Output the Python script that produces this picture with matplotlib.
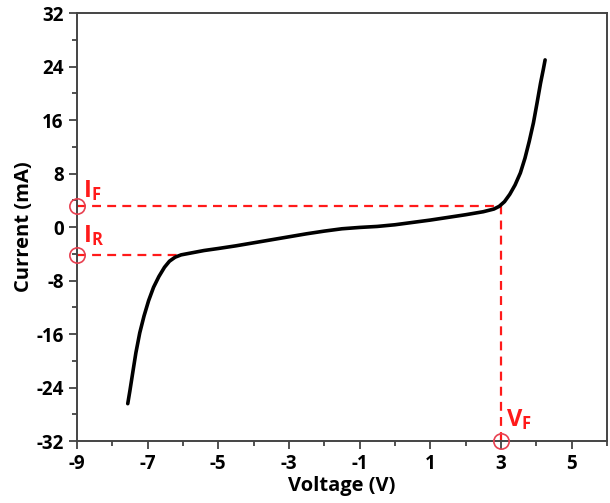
import matplotlib
matplotlib.use('Agg')
import matplotlib.pyplot as plt
from matplotlib.ticker import MultipleLocator

# I-V curve
voltage = [-7.56, -7.5, -7.42, -7.33, -7.22, -7.1, -6.97, -6.83, -6.68, -6.52, -6.38,
           -6.22, -6.05, -5.8, -5.4, -5.0, -4.5, -4.0, -3.5, -3.0, -2.5, -2.0, -1.5,
           -1.0, -0.5, 0.0, 0.5, 1.0, 1.5, 2.0, 2.5, 2.8, 2.95, 3.1, 3.25, 3.4, 3.55,
           3.68, 3.8, 3.92, 4.02, 4.12, 4.2, 4.25]
current = [-26.4, -24.5, -21.8, -18.8, -15.8, -13.3, -11.0, -9.0, -7.4, -6.0, -5.1,
           -4.5, -4.15, -3.9, -3.5, -3.2, -2.8, -2.35, -1.9, -1.45, -1.0, -0.6, -0.25,
           -0.05, 0.1, 0.35, 0.7, 1.05, 1.45, 1.85, 2.3, 2.7, 3.1, 3.8, 4.9, 6.3, 8.1,
           10.3, 12.8, 15.6, 18.5, 21.5, 23.6, 25.0]

i_f = 3.2
i_r = -4.1
v_f = 3.0
v_knee = -6.15

x_ticks = [-9, -7, -5, -3, -1, 1, 3, 5]
y_ticks = [-32, -24, -16, -8, 0, 8, 16, 24, 32]

plt.rcParams['font.family'] = ['Open Sans', 'DejaVu Sans']
plt.rcParams['axes.unicode_minus'] = False
plt.rcParams['mathtext.fontset'] = 'custom'
plt.rcParams['mathtext.bf'] = 'Open Sans:bold'
plt.rcParams['mathtext.rm'] = 'Open Sans:bold'

fig = plt.figure(figsize=(6.1, 5.03), dpi=100)
ax = fig.add_axes([0.126, 0.123, 0.869, 0.851])

red = '#ff1a1a'
ax.plot([-9, v_f - 0.05], [i_f, i_f], '--', color=red, lw=1.6, dashes=(4, 2.8))
ax.plot([-9, v_knee], [i_r, i_r], '--', color=red, lw=1.6, dashes=(4, 2.8))
ax.plot([v_f, v_f], [-32, i_f], '--', color=red, lw=1.6, dashes=(4, 2.8))

ax.plot(voltage, current, color='black', lw=2.6, solid_capstyle='round',
        solid_joinstyle='round', zorder=3)

circ = '#e84050'
ax.plot([-9, -9, v_f], [i_f, i_r, -32], 'o', ms=11, mfc='none', mec=circ, mew=1.2,
        clip_on=False, zorder=4)

ax.text(-8.83, 3.6, r'$\mathbf{I_F}$', color=red, fontsize=17, ha='left', va='bottom')
ax.text(-8.83, -3.2, r'$\mathbf{I_R}$', color=red, fontsize=17, ha='left', va='bottom')
ax.text(3.15, -30.6, r'$\mathbf{V_F}$', color=red, fontsize=17, ha='left', va='bottom')

ax.set_xlim(-9, 6)
ax.set_ylim(-32, 32)
ax.set_xticks(x_ticks)
ax.set_yticks(y_ticks)
ax.xaxis.set_minor_locator(MultipleLocator(1))
ax.yaxis.set_minor_locator(MultipleLocator(4))
ax.tick_params(which='major', direction='out', length=6, width=1.2, colors='#333333',
               labelsize=13.5, labelcolor='black')
ax.tick_params(which='minor', direction='out', length=3.5, width=1.2, colors='#333333')
for lab in ax.get_xticklabels() + ax.get_yticklabels():
    lab.set_fontweight('bold')
for s in ax.spines.values():
    s.set_linewidth(1.4)
    s.set_color('#444444')

ax.set_xlabel('Voltage (V)', fontsize=14.5, fontweight='bold', labelpad=1)
ax.set_ylabel('Current (mA)', fontsize=14.5, fontweight='bold', labelpad=2)

fig.savefig('out.png', dpi=100)
